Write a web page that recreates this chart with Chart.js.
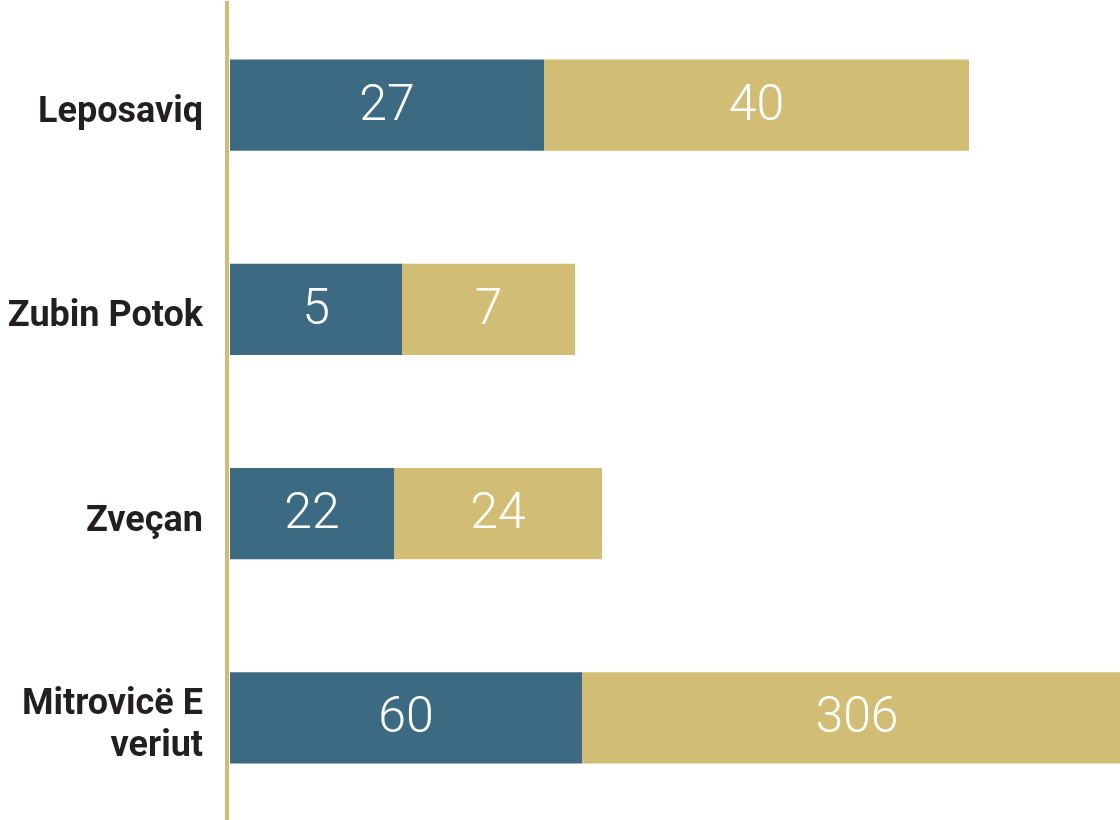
<!DOCTYPE html>
<html>
<head>
<meta charset="utf-8">
<script src="https://cdn.jsdelivr.net/npm/chart.js@4"></script>
<style>
  html, body { margin: 0; padding: 0; background: #ffffff; }
  #wrap { width: 1120px; height: 820px; }
</style>
</head>
<body>
<div id="wrap"><canvas id="myChart"></canvas></div>
<script>
// Categories (top to bottom)
const categories = ["Leposaviq", "Zubin Potok", "Zveçan", ["Mitrovicë E", "veriut"]];

// Numbers printed on the segments
const blueValues = [27, 5, 22, 60];
const goldValues = [40, 7, 24, 306];

// Segment lengths as drawn in the picture (relative units, not proportional to the printed numbers)
const blueLengths = [31.4, 17.2, 16.4, 35.2];
const goldLengths = [42.5, 17.3, 20.8, 55.0];

const blue = "#3b6a82";
const gold = "#d1be74";

// Draw the printed number in the middle of each segment
const segmentLabels = {
    id: "segmentLabels",
    afterDatasetsDraw(chart) {
        const ctx = chart.ctx;
        const texts = [blueValues, goldValues];
        ctx.save();
        ctx.fillStyle = "#ffffff";
        ctx.font = "300 50px Roboto, 'DejaVu Sans', sans-serif";
        ctx.textAlign = "center";
        ctx.textBaseline = "middle";
        chart.data.datasets.forEach((ds, d) => {
            const meta = chart.getDatasetMeta(d);
            meta.data.forEach((bar, i) => {
                const cx = (bar.x + bar.base) / 2;
                ctx.fillText(String(texts[d][i]), cx, bar.y + 2);
            });
        });
        ctx.restore();
    }
};

const ctx = document.getElementById("myChart").getContext("2d");
new Chart(ctx, {
    type: "bar",
    data: {
        labels: categories,
        datasets: [
            {
                data: blueLengths,
                backgroundColor: blue,
                borderWidth: 0,
                categoryPercentage: 1,
                barPercentage: 0.446
            },
            {
                data: goldLengths,
                backgroundColor: gold,
                borderWidth: 0,
                categoryPercentage: 1,
                barPercentage: 0.446
            }
        ]
    },
    options: {
        indexAxis: "y",
        responsive: true,
        maintainAspectRatio: false,
        animation: false,
        layout: { padding: { top: 3, right: 0, bottom: 0, left: 0 } },
        plugins: {
            legend: { display: false },
            tooltip: { enabled: false }
        },
        scales: {
            x: {
                stacked: true,
                display: false,
                min: -0.3,
                max: 89
            },
            y: {
                stacked: true,
                grid: { display: false, drawTicks: false },
                border: { display: true, color: gold, width: 4 },
                ticks: {
                    color: "#231f20",
                    padding: 24,
                    labelOffset: 8,
                    font: { family: "Roboto, 'DejaVu Sans', sans-serif", size: 36, weight: "bold", lineHeight: 1.17 }
                },
                afterFit(scale) {
                    scale.width = 227;
                    scale.paddingTop = 0;
                    scale.paddingBottom = 0;
                }
            }
        }
    },
    plugins: [segmentLabels]
});
</script>
</body>
</html>
